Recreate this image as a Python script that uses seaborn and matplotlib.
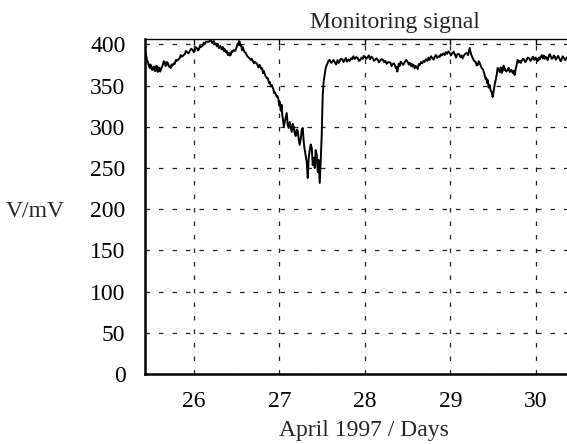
import matplotlib
matplotlib.use("Agg")
import matplotlib.pyplot as plt
import seaborn as sns
import pandas as pd

days = [25.428, 25.433, 25.439, 25.450, 25.463, 25.475, 25.486, 25.493, 25.500, 25.510, 25.521, 25.530,
        25.540, 25.548, 25.556, 25.563, 25.570, 25.575, 25.579, 25.590, 25.600, 25.607, 25.614, 25.626,
        25.638, 25.650, 25.661, 25.670, 25.680, 25.688, 25.696, 25.713, 25.731, 25.740, 25.750, 25.765,
        25.778, 25.790, 25.800, 25.818, 25.836, 25.848, 25.860, 25.878, 25.895, 25.908, 25.920, 25.937,
        25.953, 25.970, 25.988, 26.000, 26.010, 26.022, 26.035, 26.048, 26.060, 26.071, 26.082, 26.094,
        26.105, 26.117, 26.129, 26.146, 26.164, 26.180, 26.199, 26.217, 26.234, 26.247, 26.260, 26.270,
        26.280, 26.295, 26.310, 26.325, 26.339, 26.350, 26.360, 26.373, 26.386, 26.398, 26.410, 26.421,
        26.432, 26.441, 26.450, 26.467, 26.485, 26.502, 26.511, 26.520, 26.528, 26.537, 26.546, 26.555,
        26.563, 26.572, 26.590, 26.607, 26.623, 26.640, 26.653, 26.666, 26.678, 26.690, 26.702, 26.713,
        26.727, 26.740, 26.755, 26.771, 26.786, 26.800, 26.809, 26.818, 26.836, 26.853, 26.862, 26.870,
        26.880, 26.888, 26.900, 26.911, 26.920, 26.930, 26.938, 26.946, 26.958, 26.970, 26.980, 26.990,
        26.998, 27.005, 27.016, 27.028, 27.034, 27.040, 27.052, 27.063, 27.075, 27.086, 27.098, 27.110,
        27.121, 27.133, 27.145, 27.157, 27.168, 27.180, 27.191, 27.203, 27.215, 27.226, 27.238, 27.250,
        27.262, 27.273, 27.285, 27.297, 27.308, 27.320, 27.332, 27.343, 27.355, 27.367, 27.379, 27.390,
        27.402, 27.414, 27.425, 27.437, 27.449, 27.460, 27.472, 27.484, 27.495, 27.507, 27.518, 27.530,
        27.542, 27.554, 27.565, 27.577, 27.589, 27.605, 27.620, 27.633, 27.647, 27.663, 27.680, 27.693,
        27.706, 27.720, 27.735, 27.750, 27.764, 27.777, 27.790, 27.806, 27.822, 27.836, 27.850, 27.866,
        27.881, 27.898, 27.916, 27.930, 27.945, 27.960, 27.974, 27.987, 28.000, 28.016, 28.033, 28.046,
        28.060, 28.075, 28.091, 28.105, 28.120, 28.135, 28.150, 28.165, 28.180, 28.194, 28.208, 28.224,
        28.240, 28.253, 28.266, 28.283, 28.300, 28.312, 28.325, 28.338, 28.350, 28.361, 28.372, 28.378,
        28.383, 28.395, 28.407, 28.418, 28.430, 28.448, 28.465, 28.483, 28.500, 28.513, 28.525, 28.536,
        28.547, 28.558, 28.570, 28.582, 28.593, 28.605, 28.617, 28.628, 28.640, 28.655, 28.670, 28.684,
        28.698, 28.714, 28.730, 28.744, 28.757, 28.773, 28.790, 28.803, 28.815, 28.830, 28.845, 28.860,
        28.874, 28.887, 28.900, 28.916, 28.932, 28.946, 28.960, 28.976, 28.991, 29.005, 29.020, 29.035,
        29.049, 29.065, 29.080, 29.093, 29.107, 29.118, 29.130, 29.142, 29.154, 29.172, 29.189, 29.206,
        29.224, 29.241, 29.259, 29.276, 29.294, 29.306, 29.318, 29.330, 29.341, 29.353, 29.364, 29.382,
        29.399, 29.410, 29.420, 29.428, 29.435, 29.446, 29.458, 29.470, 29.481, 29.487, 29.493, 29.505,
        29.516, 29.528, 29.540, 29.546, 29.551, 29.563, 29.575, 29.587, 29.598, 29.610, 29.621, 29.627,
        29.633, 29.650, 29.668, 29.680, 29.692, 29.710, 29.727, 29.738, 29.750, 29.762, 29.773, 29.779,
        29.785, 29.798, 29.810, 29.821, 29.832, 29.846, 29.860, 29.875, 29.890, 29.905, 29.920, 29.935,
        29.949, 29.965, 29.980, 29.994, 30.007, 30.018, 30.030, 30.042, 30.054, 30.067, 30.080, 30.090,
        30.100, 30.113, 30.125, 30.136, 30.147, 30.158, 30.170, 30.182, 30.194, 30.207, 30.220, 30.230,
        30.241, 30.258, 30.276, 30.288, 30.300, 30.311, 30.322, 30.340, 30.357, 30.380, 30.400]
millivolts = [396.8, 390.0, 389.6, 382.0, 378.6, 374.0, 371.4, 375.5, 374.0, 369.5, 368.9, 373.0,
              372.5, 367.5, 370.1, 374.0, 373.0, 368.0, 366.5, 372.0, 371.0, 367.0, 368.9, 372.0,
              375.0, 379.5, 378.6, 373.5, 374.5, 378.5, 377.4, 373.0, 371.4, 375.5, 374.0, 377.0,
              376.2, 381.0, 380.0, 381.5, 383.5, 387.0, 385.0, 386.5, 388.3, 392.0, 390.5, 389.0,
              392.0, 394.5, 393.2, 390.5, 392.0, 396.5, 395.6, 392.5, 394.0, 398.0, 396.8, 397.5,
              398.5, 402.0, 400.5, 403.5, 402.9, 403.5, 405.3, 401.5, 404.1, 400.0, 401.0, 397.5,
              400.5, 395.5, 398.0, 394.0, 396.8, 392.0, 394.5, 390.5, 392.0, 387.0, 390.0, 386.5,
              387.1, 391.5, 390.5, 393.2, 392.0, 396.8, 400.5, 399.0, 404.0, 402.9, 398.0, 399.0,
              393.0, 396.8, 391.0, 389.6, 386.0, 384.0, 383.0, 381.1, 382.5, 380.0, 377.0, 378.6,
              377.5, 376.5, 372.0, 375.0, 370.5, 371.0, 365.0, 367.7, 362.0, 359.2, 359.5, 357.0,
              353.0, 354.4, 349.0, 350.7, 348.0, 346.0, 341.0, 342.2, 339.5, 336.2, 337.0, 333.0,
              326.0, 330.1, 319.5, 326.5, 314.0, 310.7, 300.5, 305.8, 312.0, 316.7, 302.0, 298.5,
              305.8, 300.0, 293.7, 303.5, 299.8, 292.0, 288.8, 296.5, 294.9, 285.0, 277.9, 285.5,
              296.1, 298.5, 281.5, 271.8, 265.0, 257.3, 237.9, 262.0, 271.8, 278.5, 274.3, 253.6,
              262.0, 250.0, 271.8, 265.8, 245.1, 259.7, 231.8, 259.7, 290.0, 338.6, 355.0, 362.9,
              371.5, 375.0, 377.4, 380.5, 381.1, 377.5, 379.0, 381.0, 378.6, 375.5, 381.0, 377.5,
              379.9, 382.5, 382.0, 378.5, 381.1, 383.5, 379.0, 381.5, 379.9, 383.0, 382.0, 385.5,
              382.3, 384.5, 383.5, 380.0, 381.0, 384.0, 382.3, 386.0, 385.0, 382.5, 384.7, 386.5,
              382.0, 385.0, 383.5, 380.0, 381.5, 383.0, 381.1, 378.0, 380.5, 382.0, 381.5, 378.5,
              379.9, 376.5, 378.0, 378.5, 377.4, 373.5, 376.0, 377.0, 375.0, 371.0, 372.6, 367.0,
              368.9, 376.5, 373.8, 379.0, 377.4, 375.0, 378.6, 381.0, 378.6, 375.5, 377.5, 374.0,
              376.2, 373.0, 375.0, 371.0, 373.8, 372.0, 370.1, 376.0, 375.0, 378.5, 377.0, 380.0,
              378.6, 382.0, 380.0, 384.0, 381.1, 385.5, 383.0, 381.5, 384.7, 387.0, 383.5, 385.5,
              384.7, 388.0, 386.5, 389.0, 387.1, 390.5, 388.5, 391.5, 389.6, 386.5, 389.0, 391.0,
              388.3, 384.0, 388.0, 388.5, 387.1, 384.5, 386.5, 383.0, 385.9, 388.5, 389.6, 387.0,
              395.6, 388.0, 383.5, 380.0, 378.6, 374.5, 375.0, 379.5, 377.4, 374.0, 371.4, 369.0,
              362.9, 358.0, 359.0, 353.0, 356.8, 347.5, 350.7, 344.0, 342.2, 339.0, 336.2, 344.0,
              350.7, 357.0, 362.9, 368.0, 371.4, 369.0, 366.5, 372.0, 365.3, 368.0, 374.1, 369.0,
              371.4, 367.0, 368.9, 371.5, 366.5, 369.0, 365.3, 368.0, 362.9, 370.0, 375.0, 378.5,
              381.1, 378.0, 380.0, 377.5, 379.9, 382.5, 381.5, 378.5, 381.1, 384.0, 383.0, 380.0,
              382.3, 385.0, 381.0, 384.0, 382.3, 379.5, 384.0, 381.5, 384.7, 387.0, 383.0, 386.5,
              382.5, 385.0, 383.5, 381.0, 385.0, 388.0, 385.9, 382.5, 383.0, 386.5, 384.7, 381.5,
              383.0, 386.0, 382.3, 379.5, 382.3, 385.5, 384.0, 381.0, 383.5, 386.0, 384.0]

yticks = [0, 50, 100, 150, 200, 250, 300, 350, 400]
xticks = [26, 27, 28, 29, 30]

sns.set_style("white")
plt.rcParams['font.family'] = ['Liberation Serif', 'DejaVu Serif']

df = pd.DataFrame({"day": days, "mv": millivolts})

fig = plt.figure(figsize=(5.67, 4.44), dpi=100)
ax = fig.add_axes([145/567, 70/444, 437/567, 335/444])

sns.lineplot(data=df, x="day", y="mv", ax=ax, color="black", linewidth=1.4, sort=False, estimator=None)

ax.set_xlim(25.43, 30.537)
ax.set_ylim(0, 406.5)
ax.set_xticks(xticks)
ax.set_yticks(yticks)
ax.grid(True, color="#222222", linestyle=(0, (3.6, 7.2)), linewidth=0.9)
ax.tick_params(axis="both", direction="in", length=4, width=1, labelsize=17, colors="black",
               top=True, right=True)
ax.tick_params(axis="y", pad=14)
ax.tick_params(axis="x", pad=12)

for s in ["left", "bottom"]:
    ax.spines[s].set_linewidth(1.8)
    ax.spines[s].set_color("black")
for s in ["top", "right"]:
    ax.spines[s].set_linewidth(1.0)
    ax.spines[s].set_color("black")

ax.set_title("Monitoring signal", fontsize=17, pad=8, x=(395 - 145) / 437)
ax.set_xlabel("April 1997 / Days", fontsize=17, labelpad=6)
ax.set_ylabel("V/mV", fontsize=17, rotation=0, ha="center", va="center")
ax.yaxis.set_label_coords(-0.2506, 0.485)

fig.savefig("out.png", dpi=100)
